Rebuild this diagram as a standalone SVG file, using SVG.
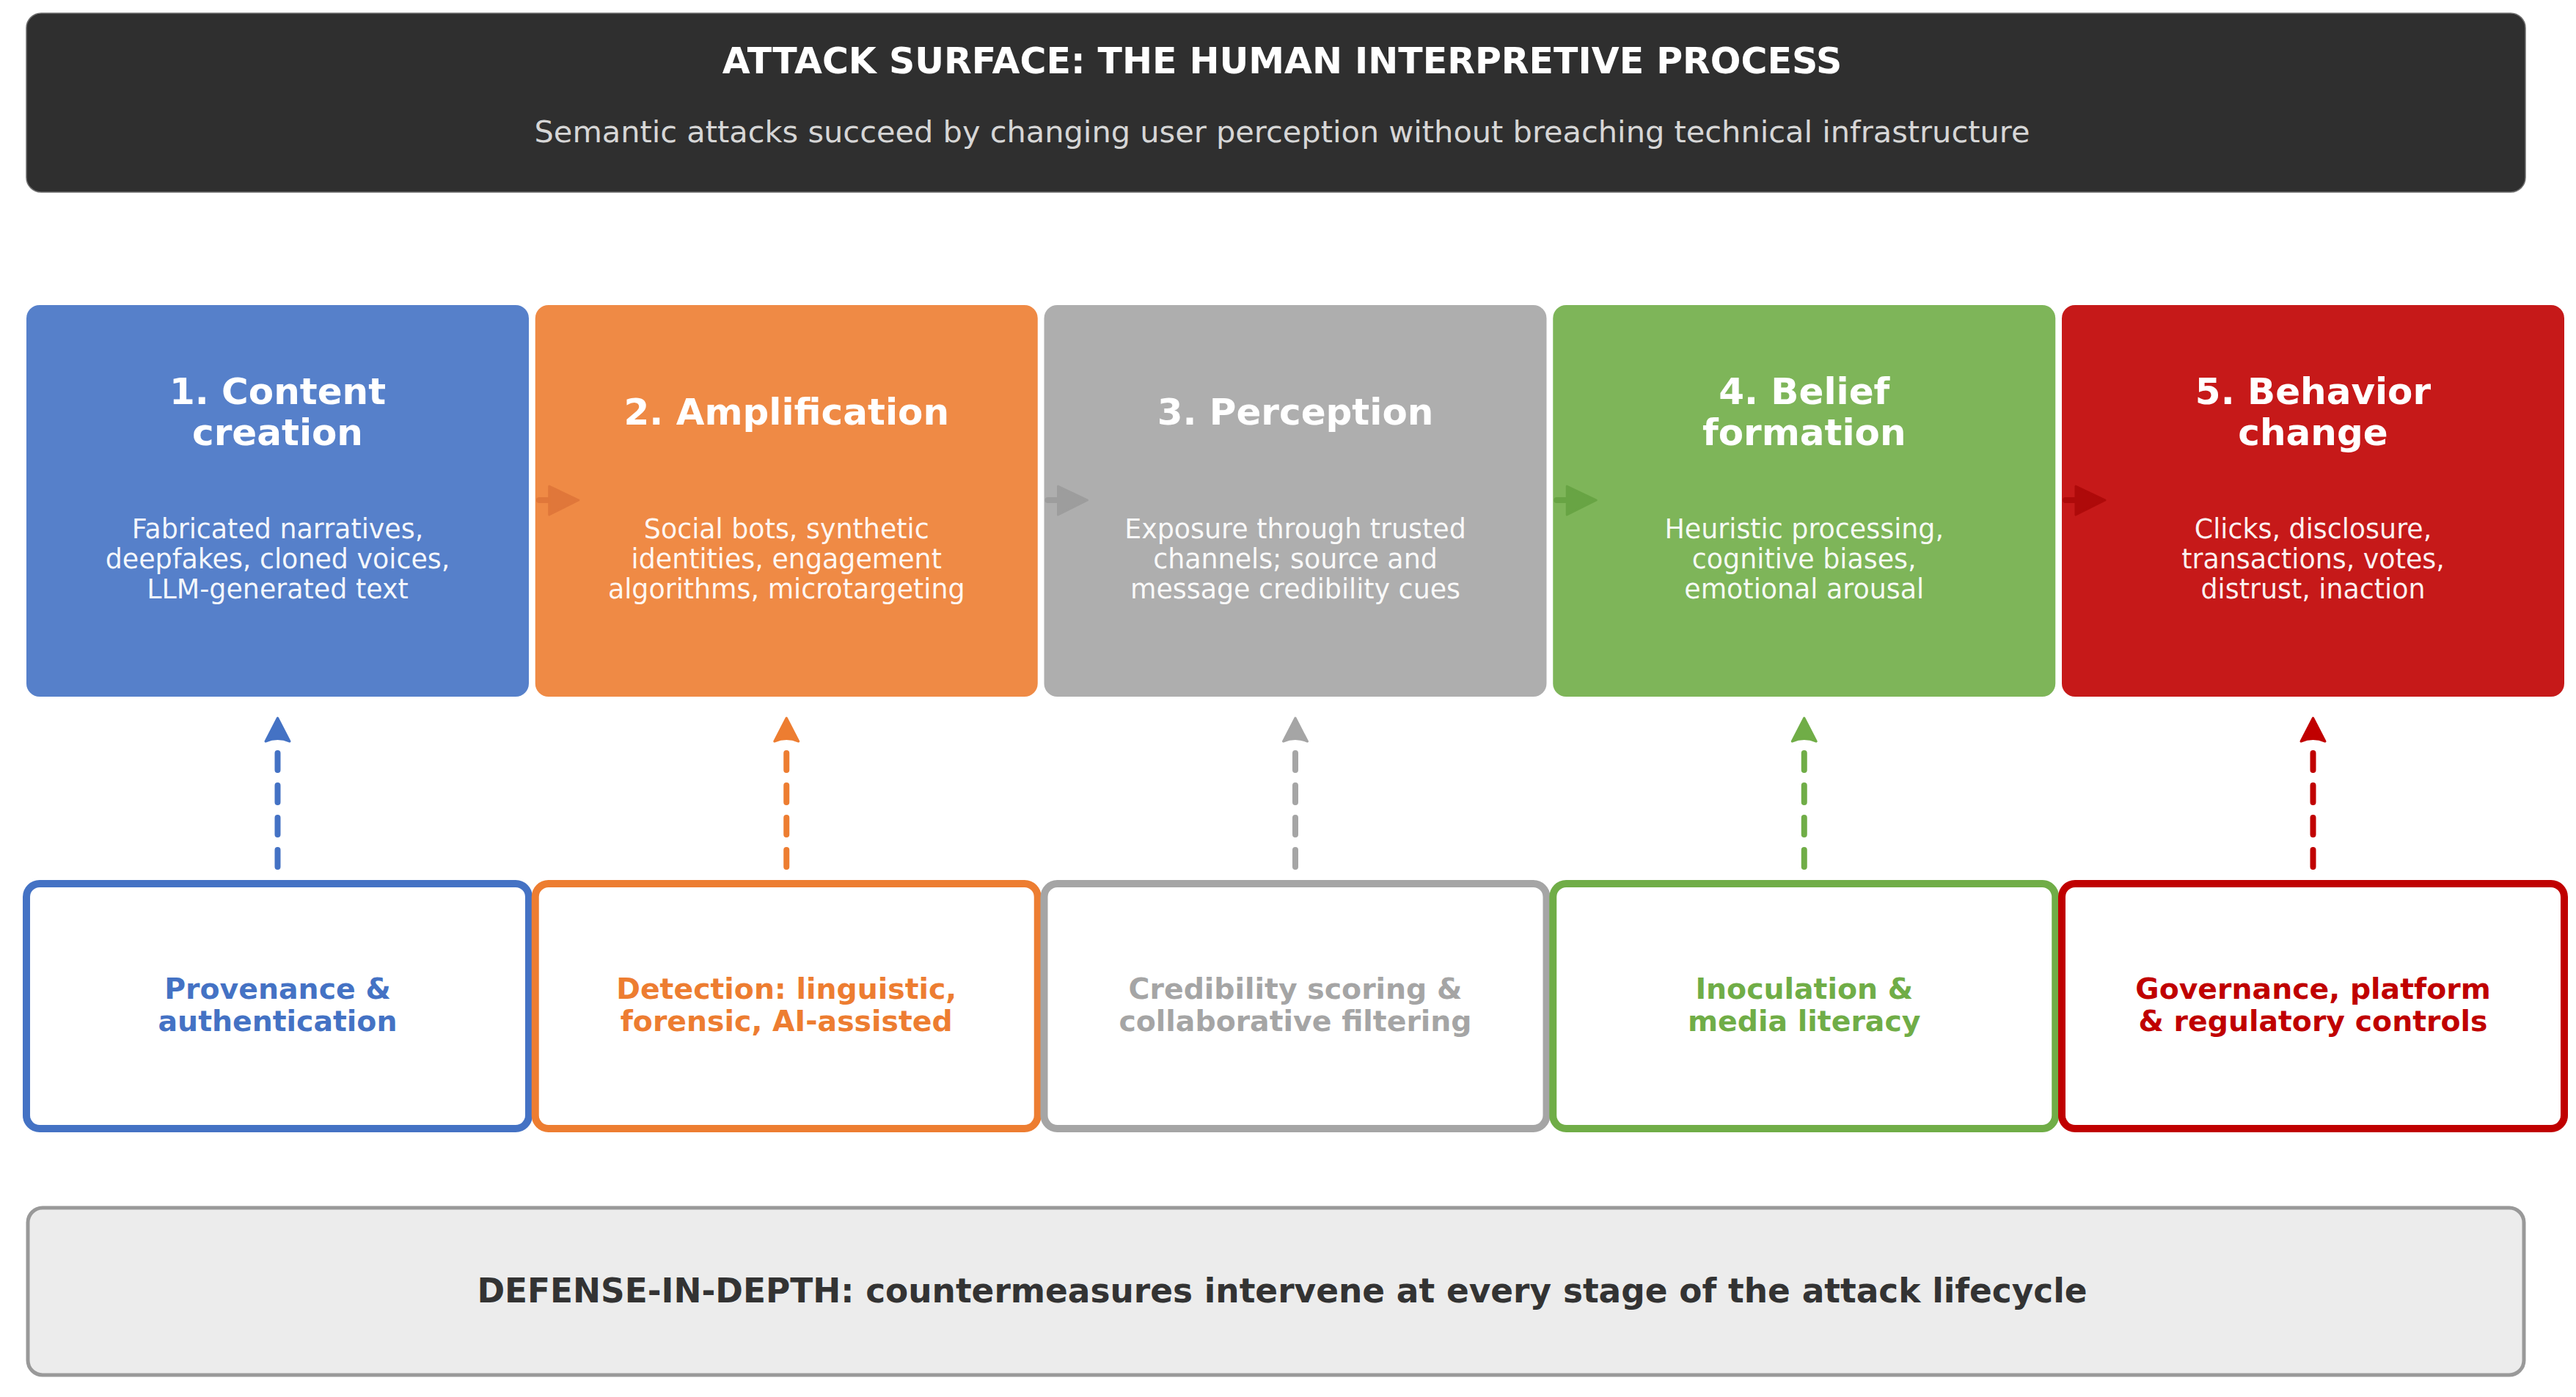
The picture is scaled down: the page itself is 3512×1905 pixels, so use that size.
<svg xmlns="http://www.w3.org/2000/svg" width="3512" height="1905" viewBox="0 0 3512 1905">
  <style>
    text { font-family: "DejaVu Sans", Verdana, "Liberation Sans", sans-serif; text-anchor: middle; }
    .hdr-title { font-size: 49px; font-weight: bold; fill: #ffffff; }
    .hdr-sub { font-size: 41.5px; fill: #d6d6d6; }
    .stage rect { stroke: none; fill-opacity: 0.9; }
    .stage-title { font-size: 50px; font-weight: bold; fill: #ffffff; }
    .stage-desc { font-size: 36.4px; fill: #ffffff; fill-opacity: 0.95; }
    .ctr rect { fill: #ffffff; stroke-width: 10; }
    .ctr-text { font-size: 39.4px; font-weight: bold; }
    .dash { fill: none; stroke-width: 8; stroke-linecap: round; stroke-dasharray: 23 21; }
    .flow { stroke-width: 8; stroke-linecap: round; }
    .footer-text { font-size: 45.4px; font-weight: bold; fill: #333333; }
  </style>

  <rect width="3512" height="1905" fill="#ffffff"/>

  <!-- header banner -->
  <g id="header">
    <rect x="36" y="18" width="3407" height="244" rx="20" fill="#2f2f2f" stroke="#6e6e6e" stroke-width="1.5"/>
    <text class="hdr-title" x="1748" y="100">ATTACK SURFACE: THE HUMAN INTERPRETIVE PROCESS</text>
    <text class="hdr-sub" x="1748" y="194">Semantic attacks succeed by changing user perception without breaching technical infrastructure</text>
  </g>

  <!-- attack lifecycle stages -->
  <g id="stage1" class="stage">
    <rect x="36" y="416" width="685" height="534" rx="18" fill="#4472c4"/>
    <text class="stage-title" x="378.5" y="551">1. Content</text>
    <text class="stage-title" x="378.5" y="607">creation</text>
    <text class="stage-desc" x="378.5" y="734">Fabricated narratives,</text>
    <text class="stage-desc" x="378.5" y="775">deepfakes, cloned voices,</text>
    <text class="stage-desc" x="378.5" y="816">LLM-generated text</text>
  </g>
  <g id="stage2" class="stage">
    <rect x="729.75" y="416" width="685" height="534" rx="18" fill="#ed7d31"/>
    <text class="stage-title" x="1072.25" y="579">2. Amplification</text>
    <text class="stage-desc" x="1072.25" y="734">Social bots, synthetic</text>
    <text class="stage-desc" x="1072.25" y="775">identities, engagement</text>
    <text class="stage-desc" x="1072.25" y="816">algorithms, microtargeting</text>
  </g>
  <g id="stage3" class="stage">
    <rect x="1423.5" y="416" width="685" height="534" rx="18" fill="#a5a5a5"/>
    <text class="stage-title" x="1766" y="579">3. Perception</text>
    <text class="stage-desc" x="1766" y="734">Exposure through trusted</text>
    <text class="stage-desc" x="1766" y="775">channels; source and</text>
    <text class="stage-desc" x="1766" y="816">message credibility cues</text>
  </g>
  <g id="stage4" class="stage">
    <rect x="2117.25" y="416" width="685" height="534" rx="18" fill="#70ad47"/>
    <text class="stage-title" x="2459.75" y="551">4. Belief</text>
    <text class="stage-title" x="2459.75" y="607">formation</text>
    <text class="stage-desc" x="2459.75" y="734">Heuristic processing,</text>
    <text class="stage-desc" x="2459.75" y="775">cognitive biases,</text>
    <text class="stage-desc" x="2459.75" y="816">emotional arousal</text>
  </g>
  <g id="stage5" class="stage">
    <rect x="2811" y="416" width="685" height="534" rx="18" fill="#c00000"/>
    <text class="stage-title" x="3153.5" y="551">5. Behavior</text>
    <text class="stage-title" x="3153.5" y="607">change</text>
    <text class="stage-desc" x="3153.5" y="734">Clicks, disclosure,</text>
    <text class="stage-desc" x="3153.5" y="775">transactions, votes,</text>
    <text class="stage-desc" x="3153.5" y="816">distrust, inaction</text>
  </g>

  <!-- countermeasures -->
  <g id="ctr1" class="ctr">
    <rect x="36" y="1205" width="685" height="334" rx="18" stroke="#4472c4"/>
    <text class="ctr-text" x="378.5" y="1362" fill="#4472c4">Provenance &amp;</text>
    <text class="ctr-text" x="378.5" y="1406" fill="#4472c4">authentication</text>
  </g>
  <g id="ctr2" class="ctr">
    <rect x="729.75" y="1205" width="685" height="334" rx="18" stroke="#ed7d31"/>
    <text class="ctr-text" x="1072.25" y="1362" fill="#ed7d31">Detection: linguistic,</text>
    <text class="ctr-text" x="1072.25" y="1406" fill="#ed7d31">forensic, AI-assisted</text>
  </g>
  <g id="ctr3" class="ctr">
    <rect x="1423.5" y="1205" width="685" height="334" rx="18" stroke="#a5a5a5"/>
    <text class="ctr-text" x="1766" y="1362" fill="#a5a5a5">Credibility scoring &amp;</text>
    <text class="ctr-text" x="1766" y="1406" fill="#a5a5a5">collaborative filtering</text>
  </g>
  <g id="ctr4" class="ctr">
    <rect x="2117.25" y="1205" width="685" height="334" rx="18" stroke="#70ad47"/>
    <text class="ctr-text" x="2459.75" y="1362" fill="#70ad47">Inoculation &amp;</text>
    <text class="ctr-text" x="2459.75" y="1406" fill="#70ad47">media literacy</text>
  </g>
  <g id="ctr5" class="ctr">
    <rect x="2811" y="1205" width="685" height="334" rx="18" stroke="#c00000"/>
    <text class="ctr-text" x="3153.5" y="1362" fill="#c00000">Governance, platform</text>
    <text class="ctr-text" x="3153.5" y="1406" fill="#c00000">&amp; regulatory controls</text>
  </g>

  <!-- connectors -->
  <g id="connectors">
    <!-- stage-to-stage flow arrows -->
    <g>
      <line class="flow" x1="735" y1="682" x2="752" y2="682" stroke="#e0773a"/>
      <path d="M748.75 663 L788.75 682 L748.75 702 Z" fill="#e0773a" stroke="#e0773a" stroke-width="3" stroke-linejoin="round"/>
      <line class="flow" x1="1428.5" y1="682" x2="1445.5" y2="682" stroke="#9d9d9d"/>
      <path d="M1442.5 663 L1482.5 682 L1442.5 702 Z" fill="#9d9d9d" stroke="#9d9d9d" stroke-width="3" stroke-linejoin="round"/>
      <line class="flow" x1="2122.25" y1="682" x2="2139.25" y2="682" stroke="#68a444"/>
      <path d="M2136.25 663 L2176.25 682 L2136.25 702 Z" fill="#68a444" stroke="#68a444" stroke-width="3" stroke-linejoin="round"/>
      <line class="flow" x1="2816" y1="682" x2="2833" y2="682" stroke="#ae0a0a"/>
      <path d="M2830 663 L2870 682 L2830 702 Z" fill="#ae0a0a" stroke="#ae0a0a" stroke-width="3" stroke-linejoin="round"/>
    </g>
    <!-- countermeasure-to-stage dashed arrows -->
    <g>
      <path class="dash" d="M378.5 1027 V1186" stroke="#4472c4"/>
      <path d="M378.5 979 L395 1011 Q378.5 1004 362 1011 Z" fill="#4472c4" stroke="#4472c4" stroke-width="3" stroke-linejoin="round"/>
      <path class="dash" d="M1072.25 1027 V1186" stroke="#ed7d31"/>
      <path d="M1072.25 979 L1088.75 1011 Q1072.25 1004 1055.75 1011 Z" fill="#ed7d31" stroke="#ed7d31" stroke-width="3" stroke-linejoin="round"/>
      <path class="dash" d="M1766 1027 V1186" stroke="#a5a5a5"/>
      <path d="M1766 979 L1782.5 1011 Q1766 1004 1749.5 1011 Z" fill="#a5a5a5" stroke="#a5a5a5" stroke-width="3" stroke-linejoin="round"/>
      <path class="dash" d="M2459.75 1027 V1186" stroke="#70ad47"/>
      <path d="M2459.75 979 L2476.25 1011 Q2459.75 1004 2443.25 1011 Z" fill="#70ad47" stroke="#70ad47" stroke-width="3" stroke-linejoin="round"/>
      <path class="dash" d="M3153.5 1027 V1186" stroke="#c00000"/>
      <path d="M3153.5 979 L3170 1011 Q3153.5 1004 3137 1011 Z" fill="#c00000" stroke="#c00000" stroke-width="3" stroke-linejoin="round"/>
    </g>
  </g>

  <!-- footer banner -->
  <g id="footer">
    <rect x="38" y="1647" width="3403" height="228" rx="20" fill="#ececec" stroke="#999999" stroke-width="5"/>
    <text class="footer-text" x="1748" y="1776">DEFENSE-IN-DEPTH: countermeasures intervene at every stage of the attack lifecycle</text>
  </g>
</svg>
